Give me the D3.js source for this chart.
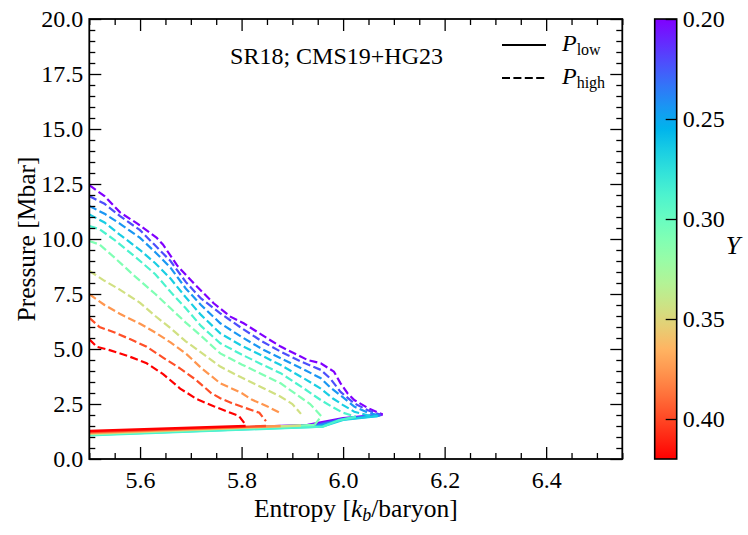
<!DOCTYPE html>
<html><head><meta charset="utf-8">
<script src="https://cdn.jsdelivr.net/npm/d3@7"></script>
<style>body{margin:0;background:#fff} svg text{font-family:"Liberation Serif","Times New Roman",serif !important;fill:#000}</style>
</head><body><svg id="c" width="748" height="535"></svg>
<script>
// Helium mass fraction of each curve
const yFractions = [0.20,0.222,0.244,0.266,0.288,0.31,0.345,0.376,0.398,0.42];
// P_high curves [entropy, pressure]
const high0 = [[5.500,12.45],[5.530,11.95],[5.561,11.20],[5.594,10.71],[5.633,10.05],[5.645,9.75],[5.673,8.80],[5.706,7.98],[5.745,7.08],[5.778,6.47],[5.804,6.17],[5.851,5.48],[5.877,5.11],[5.930,4.50],[5.956,4.35],[5.982,3.97],[5.995,3.44],[6.009,2.98],[6.022,2.68],[6.050,2.30],[6.078,2.02]];
const high1 = [[5.500,11.95],[5.530,11.60],[5.560,11.05],[5.600,10.40],[5.630,9.70],[5.660,9.00],[5.690,8.05],[5.720,7.30],[5.758,6.62],[5.800,5.95],[5.840,5.35],[5.877,4.88],[5.920,4.40],[5.956,4.05],[5.975,3.65],[5.995,3.05],[6.022,2.53],[6.050,2.20],[6.075,2.00]];
const high2 = [[5.500,11.50],[5.530,11.15],[5.560,10.70],[5.600,10.05],[5.630,9.40],[5.660,8.70],[5.690,7.75],[5.720,7.00],[5.758,6.17],[5.800,5.55],[5.840,5.00],[5.877,4.58],[5.920,4.10],[5.956,3.67],[5.975,3.25],[6.000,2.80],[6.022,2.38],[6.050,2.10],[6.072,1.98]];
const high3 = [[5.500,11.12],[5.530,10.75],[5.560,10.20],[5.600,9.50],[5.630,8.90],[5.660,8.20],[5.690,7.35],[5.720,6.55],[5.758,5.71],[5.800,5.15],[5.840,4.70],[5.877,4.27],[5.920,3.70],[5.956,3.20],[5.980,2.75],[6.000,2.45],[6.022,2.15],[6.050,1.98],[6.068,1.95]];
const high4 = [[5.500,10.59],[5.520,10.45],[5.550,9.95],[5.590,9.20],[5.630,8.40],[5.660,7.60],[5.690,6.85],[5.720,6.05],[5.758,5.26],[5.800,4.75],[5.840,4.30],[5.877,3.90],[5.920,3.25],[5.956,2.68],[5.980,2.35],[6.000,2.10],[6.025,1.92]];
const high5 = [[5.500,9.91],[5.520,9.75],[5.550,9.15],[5.590,8.30],[5.630,7.50],[5.660,6.85],[5.690,6.20],[5.720,5.60],[5.758,4.80],[5.800,4.30],[5.840,3.85],[5.877,3.44],[5.910,2.90],[5.935,2.50],[5.957,1.95],[5.944,1.55]];
const high6 = [[5.500,8.55],[5.530,8.10],[5.560,7.70],[5.600,7.10],[5.630,6.50],[5.660,5.95],[5.690,5.35],[5.720,4.85],[5.758,4.20],[5.800,3.70],[5.840,3.25],[5.877,2.83],[5.900,2.50],[5.917,2.05]];
const high7 = [[5.500,7.49],[5.530,7.00],[5.560,6.60],[5.600,6.15],[5.630,5.75],[5.660,5.30],[5.690,4.80],[5.720,4.15],[5.758,3.44],[5.800,3.00],[5.820,2.70],[5.850,2.40],[5.877,2.08]];
const high8 = [[5.500,6.42],[5.520,6.00],[5.550,5.75],[5.580,5.45],[5.613,5.10],[5.646,4.60],[5.680,4.10],[5.710,3.60],[5.740,3.00],[5.758,2.76],[5.780,2.55],[5.810,2.30],[5.835,2.10],[5.848,1.72]];
const high9 = [[5.500,5.44],[5.515,5.10],[5.540,4.95],[5.580,4.65],[5.613,4.35],[5.646,3.85],[5.679,3.20],[5.712,2.72],[5.745,2.40],[5.778,2.10],[5.795,1.95],[5.808,1.55]];
// P_low curves [entropy, pressure]
const low0 = [[5.5,1.17],[5.93,1.55],[6.0,1.85],[6.078,2.02]];
const low1 = [[5.5,1.15],[5.94,1.52],[6.0,1.82],[6.075,2.00]];
const low2 = [[5.5,1.12],[5.95,1.50],[6.0,1.80],[6.072,1.98]];
const low3 = [[5.5,1.10],[5.96,1.48],[6.0,1.78],[6.068,1.95]];
const low4 = [[5.5,1.08],[5.96,1.47],[5.99,1.75],[6.025,1.92]];
const low5 = [[5.5,1.12],[5.944,1.55]];
const low6 = [[5.5,1.15],[5.917,1.52]];
const low7 = [[5.5,1.18],[5.877,1.50]];
const low8 = [[5.5,1.22],[5.848,1.50]];
const low9 = [[5.5,1.27],[5.808,1.50]];
const xTicks = [5.6,5.8,6.0,6.2,6.4];
const yTicks = [0,2.5,5,7.5,10,12.5,15,17.5,20];
const cbTicks = [0.20,0.25,0.30,0.35,0.40];
const annotation = "SR18; CMS19+HG23";

const highs = [high0,high1,high2,high3,high4,high5,high6,high7,high8,high9];
const lows = [low0,low1,low2,low3,low4,low5,low6,low7,low8,low9];
const SERIF = "Liberation Serif";

function rainbow(t){
  const r = Math.min(1, Math.abs(2*t-0.5));
  const g = Math.sin(Math.PI*t);
  const b = Math.cos(Math.PI*t/2);
  return d3.rgb(r*255, g*255, b*255).formatHex();
}
const yMin = 0.20, yMax = 0.42;
const color = v => rainbow((v-yMin)/(yMax-yMin));

const svg = d3.select("#c").attr("font-family",SERIF);
const L=89.3, R=622.3, T=19, B=459;
const x = d3.scaleLinear([5.5,6.55],[L,R]);
const y = d3.scaleLinear([0,20],[B,T]);

svg.append("defs").append("clipPath").attr("id","clip")
  .append("rect").attr("x",L).attr("y",T).attr("width",R-L).attr("height",B-T);

const line = d3.line().x(d=>x(d[0])).y(d=>y(d[1]));
const g = svg.append("g").attr("clip-path","url(#clip)");
yFractions.forEach((v,i)=>{
  g.append("path").attr("d",line(lows[i])).attr("fill","none")
    .attr("stroke",color(v)).attr("stroke-width",2.4).attr("stroke-linejoin","round");
  g.append("path").attr("d",line(highs[i])).attr("fill","none")
    .attr("stroke",color(v)).attr("stroke-width",2.2).attr("stroke-dasharray","8,3.4");
});

// axes
const fs = 24;
function styleAx(sel){
  sel.attr("font-family",SERIF).attr("font-size",fs);
  sel.select(".domain").remove();
  sel.selectAll("line").attr("stroke","#000").attr("stroke-width",1.3);
  sel.selectAll("text").attr("font-size",fs).attr("font-family",SERIF).style("font-family",SERIF);
}
const xMinor = d3.range(5.5,6.551,0.05).filter(v=>!xTicks.some(t=>Math.abs(t-v)<1e-6));
const yMinor = d3.range(0,20.01,0.5).filter(v=>!yTicks.some(t=>Math.abs(t-v)<1e-6));

svg.append("g").attr("transform",`translate(0,${B})`)
  .call(d3.axisBottom(x).tickValues(xTicks).tickFormat(d3.format(".1f")).tickSize(-12).tickPadding(12)).call(styleAx);
svg.append("g").attr("transform",`translate(0,${B})`)
  .call(d3.axisBottom(x).tickValues(xMinor).tickFormat("").tickSize(-6)).call(styleAx);
svg.append("g").attr("transform",`translate(0,${T})`)
  .call(d3.axisTop(x).tickValues(xTicks).tickFormat("").tickSize(-12)).call(styleAx);
svg.append("g").attr("transform",`translate(0,${T})`)
  .call(d3.axisTop(x).tickValues(xMinor).tickFormat("").tickSize(-6)).call(styleAx);
svg.append("g").attr("transform",`translate(${L},0)`)
  .call(d3.axisLeft(y).tickValues(yTicks).tickFormat(d3.format(".1f")).tickSize(-12).tickPadding(6)).call(styleAx);
svg.append("g").attr("transform",`translate(${L},0)`)
  .call(d3.axisLeft(y).tickValues(yMinor).tickFormat("").tickSize(-6)).call(styleAx);
svg.append("g").attr("transform",`translate(${R},0)`)
  .call(d3.axisRight(y).tickValues(yTicks).tickFormat("").tickSize(-12)).call(styleAx);
svg.append("g").attr("transform",`translate(${R},0)`)
  .call(d3.axisRight(y).tickValues(yMinor).tickFormat("").tickSize(-6)).call(styleAx);

svg.append("rect").attr("x",L).attr("y",T).attr("width",R-L).attr("height",B-T)
  .attr("fill","none").attr("stroke","#000").attr("stroke-width",1.8);

// axis labels
const xl = svg.append("text").attr("x",(L+R)/2).attr("y",517).attr("text-anchor","middle").attr("font-size",25.5);
xl.append("tspan").text("Entropy [");
xl.append("tspan").attr("font-style","italic").text("k");
xl.append("tspan").attr("font-style","italic").attr("font-size",18).attr("baseline-shift","-4").text("b");
xl.append("tspan").text("/baryon]");
svg.append("text").attr("transform",`translate(35,${(T+B)/2}) rotate(-90)`).attr("text-anchor","middle")
  .attr("font-size",25.5).text("Pressure [Mbar]");

// annotation
svg.append("text").attr("x",443).attr("y",64).attr("text-anchor","end").attr("font-size",24).text(annotation);

// legend
const legend = [{dash:null,sub:"low",yy:45},{dash:"8,3.4",sub:"high",yy:78}];
legend.forEach(d=>{
  svg.append("line").attr("x1",502).attr("x2",546).attr("y1",d.yy).attr("y2",d.yy)
    .attr("stroke","#000").attr("stroke-width",2.2).attr("stroke-dasharray",d.dash);
  const t = svg.append("text").attr("x",562).attr("y",d.yy+6).attr("font-size",24);
  t.append("tspan").attr("font-style","italic").text("P");
  t.append("tspan").attr("font-size",16).attr("baseline-shift","-4").text(d.sub);
});

// colorbar
const cbL=654.7, cbR=676.7;
const cy = d3.scaleLinear([yMin,yMax],[T,B]);
const grad = svg.select("defs").append("linearGradient").attr("id","cbg")
  .attr("x1",0).attr("y1",0).attr("x2",0).attr("y2",1);
d3.range(0,1.0001,0.05).forEach(t=>grad.append("stop").attr("offset",t).attr("stop-color",rainbow(t)));
svg.append("rect").attr("x",cbL).attr("y",T).attr("width",cbR-cbL).attr("height",B-T)
  .attr("fill","url(#cbg)").attr("stroke","#000").attr("stroke-width",1.6);
svg.append("g").attr("transform",`translate(${cbR},0)`)
  .call(d3.axisRight(cy).tickValues(cbTicks).tickFormat(d3.format(".2f")).tickSize(-11).tickPadding(6)).call(styleAx);
svg.append("text").attr("x",733).attr("y",254).attr("text-anchor","middle").attr("font-size",26)
  .attr("font-style","italic").text("Y");
</script></body></html>
